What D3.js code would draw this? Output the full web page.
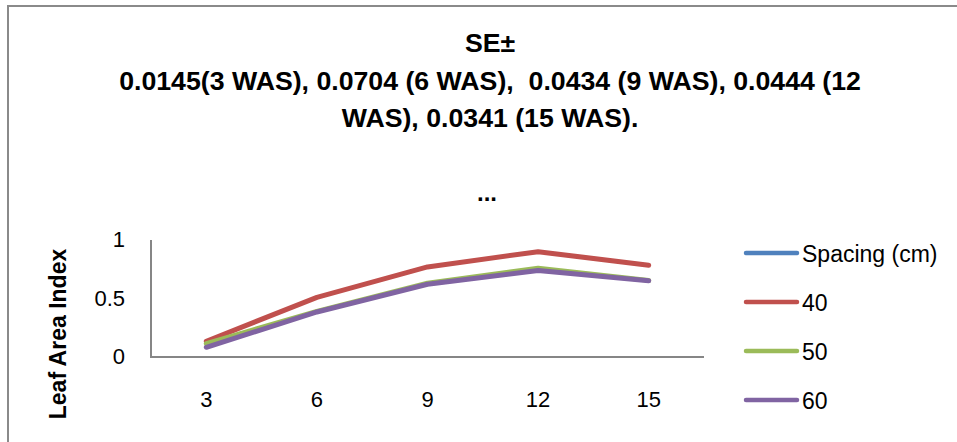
<!DOCTYPE html>
<html>
<head>
<meta charset="utf-8">
<script src="https://cdn.jsdelivr.net/npm/d3@7"></script>
<style>
body { margin: 0; background: #fff; }
svg text { font-family: "Liberation Sans", Arial, sans-serif; fill: #000; }
</style>
</head>
<body>
<svg id="chart" width="957" height="442"></svg>
<script>
// Weeks after sowing (x categories)
var weeks = ["3", "6", "9", "12", "15"];
var seriesNames = ["Spacing (cm)", "40", "50", "60"];
var spacing = [null, null, null, null, null]; // empty header series
var s40 = [0.135, 0.51, 0.77, 0.90, 0.785];
var s50 = [0.115, 0.39, 0.63, 0.758, 0.655];
var s60 = [0.083, 0.385, 0.622, 0.74, 0.652];
var yTicks = [0, 0.5, 1];
var titleLines = ["SE\u00b1",
  "0.0145(3 WAS), 0.0704 (6 WAS),  0.0434 (9 WAS), 0.0444 (12",
  "WAS), 0.0341 (15 WAS)."];
var colors = ["#4F81BD", "#C0504D", "#9BBB59", "#8064A2"];

var svg = d3.select("#chart");
var series = [spacing, s40, s50, s60];

// outer frame (only top/left visible)
svg.append("path")
  .attr("d", "M8,450V6H960")
  .attr("fill", "none")
  .attr("stroke", "#8a8a8a")
  .attr("stroke-width", 2);

// title
svg.append("g").selectAll("text")
  .data(titleLines)
  .enter().append("text")
  .attr("x", 490)
  .attr("y", function(d, i) { return 52 + i * 37.5; })
  .attr("text-anchor", "middle")
  .attr("font-size", 26.7)
  .attr("font-weight", "bold")
  .style("white-space", "pre")
  .text(function(d) { return d; });

svg.append("text")
  .attr("x", 487).attr("y", 201)
  .attr("text-anchor", "middle")
  .attr("font-size", 24).attr("font-weight", "bold")
  .text("...");

var x = d3.scalePoint().domain(weeks).range([151, 704]).padding(0.5);
var y = d3.scaleLinear().domain([0, 1]).range([357, 240]);

// axes
svg.append("line")
  .attr("x1", 151).attr("x2", 151).attr("y1", y(1)).attr("y2", y(0))
  .attr("stroke", "#868686").attr("stroke-width", 2);
svg.append("line")
  .attr("x1", 150).attr("x2", 704).attr("y1", y(0)).attr("y2", y(0))
  .attr("stroke", "#868686").attr("stroke-width", 2);

svg.append("g").selectAll("text")
  .data(yTicks)
  .enter().append("text")
  .attr("x", 125)
  .attr("y", function(d) { return y(d) + 7; })
  .attr("text-anchor", "end")
  .attr("font-size", 22)
  .text(function(d) { return d; });

svg.append("g").selectAll("text")
  .data(weeks)
  .enter().append("text")
  .attr("x", function(d) { return x(d); })
  .attr("y", 407)
  .attr("text-anchor", "middle")
  .attr("font-size", 22)
  .text(function(d) { return d; });

svg.append("text")
  .attr("transform", "translate(66,334) rotate(-90)")
  .attr("text-anchor", "middle")
  .attr("font-size", 23)
  .attr("font-weight", "bold")
  .text("Leaf Area Index");

// lines
var line = d3.line()
  .defined(function(d) { return d != null; })
  .x(function(d, i) { return x(weeks[i]); })
  .y(function(d) { return y(d); });

svg.append("g").selectAll("path")
  .data(series)
  .enter().append("path")
  .attr("d", line)
  .attr("fill", "none")
  .attr("stroke", function(d, i) { return colors[i]; })
  .attr("stroke-width", 5)
  .attr("stroke-linejoin", "round")
  .attr("stroke-linecap", "round");

// legend
var leg = svg.append("g").selectAll("g")
  .data(seriesNames)
  .enter().append("g")
  .attr("transform", function(d, i) { return "translate(0," + (253 + i * 49) + ")"; });
leg.append("line")
  .attr("x1", 746).attr("x2", 797)
  .attr("stroke", function(d, i) { return colors[i]; })
  .attr("stroke-width", 4.5)
  .attr("stroke-linecap", "round");
leg.append("text")
  .attr("x", 802).attr("y", 9)
  .attr("font-size", 23)
  .text(function(d) { return d; });
</script>
</body>
</html>
